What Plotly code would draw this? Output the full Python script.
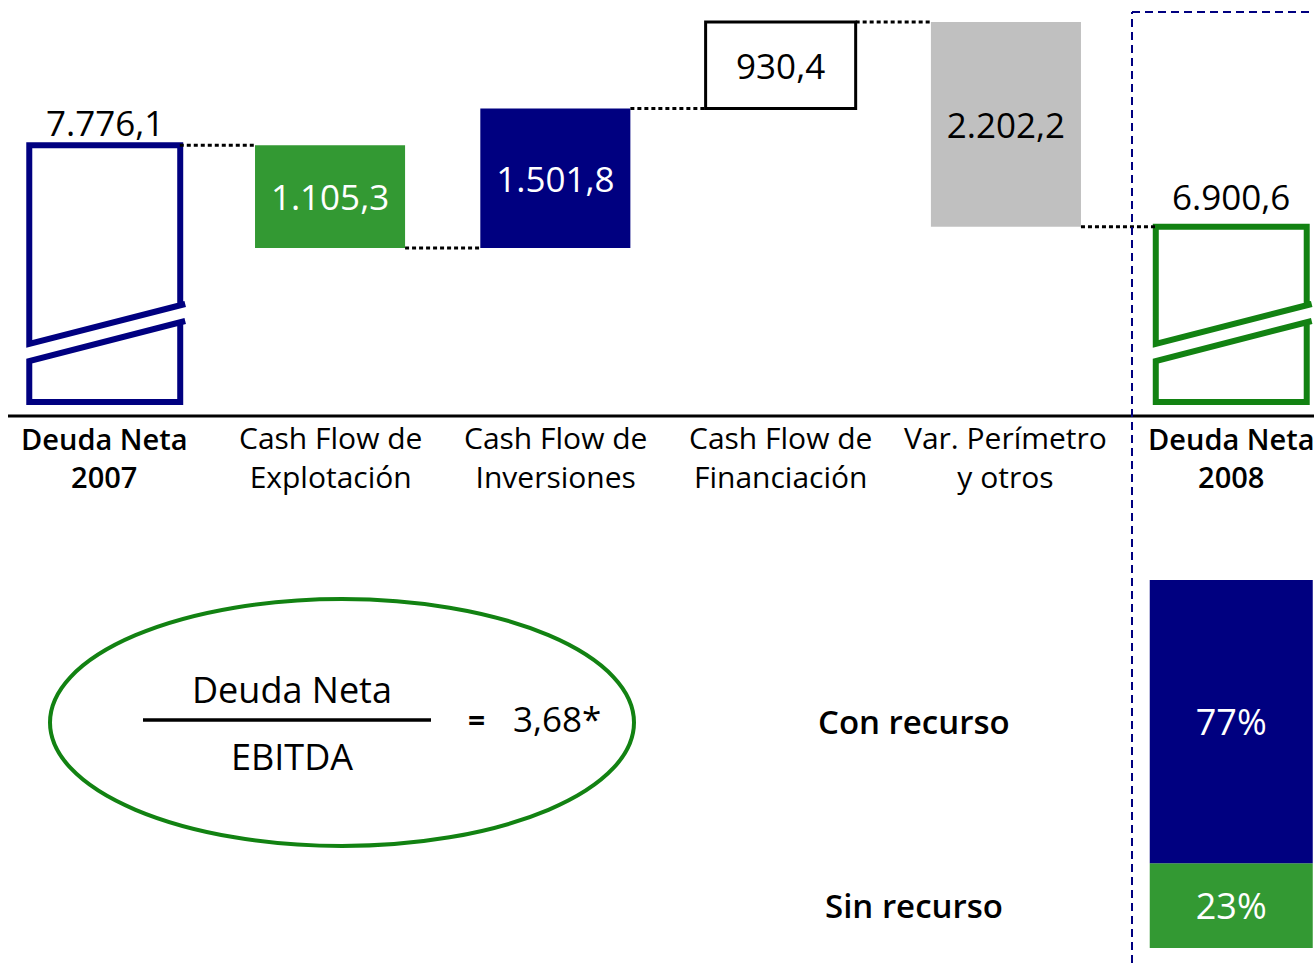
import plotly.graph_objects as go

# waterfall data (millones de euros)
categorias = ["Deuda Neta<br>2007", "Cash Flow de<br>Explotación", "Cash Flow de<br>Inversiones",
              "Cash Flow de<br>Financiación", "Var. Perímetro<br>y otros", "Deuda Neta<br>2008"]
deuda_2007 = 7776.1
variaciones = [-1105.3, 1501.8, 930.4, -2202.2]
deuda_2008 = 6900.6
etiquetas = ["7.776,1", "1.105,3", "1.501,8", "930,4", "2.202,2", "6.900,6"]

# deuda 2008 con / sin recurso (%)
tramos = ["Sin recurso", "Con recurso"]
tramos_pct = [23, 77]
tramos_txt = ["23%", "77%"]

ratio_txt = "3,68*"

NAVY = "#000080"
GREEN = "#339933"
DGREEN = "#128212"
GREY = "#c0c0c0"
FONT = "Open Sans"
W, H = 1314.0, 963.0

# top axis: broken scale, only the upper part is shown
y_min, y_max = 4863, 9340
upp = (y_max - y_min) / 416.0          # data units per pixel
ux = 1 / 225.3                         # x units per pixel

fig = go.Figure()

# cumulative levels
niveles = [deuda_2007]
for v in variaciones:
    niveles.append(niveles[-1] + v)

colores = [GREEN, NAVY, "white", GREY]
txt_col = ["white", "white", "black", "black"]
for i, v in enumerate(variaciones):
    lo = min(niveles[i], niveles[i + 1])
    fig.add_trace(go.Bar(
        x=[i + 1], y=[abs(v)], base=[lo], width=0.666,
        marker=dict(color=colores[i],
                    line=dict(color="black" if colores[i] == "white" else colores[i],
                              width=3 if colores[i] == "white" else 0)),
        text=[etiquetas[i + 1]], textposition="inside", insidetextanchor="middle",
        textfont=dict(family=FONT, size=35, color=txt_col[i]),
        textangle=0, constraintext="none", showlegend=False, hoverinfo="skip"))


def barra_rota(xc, top, color):
    # total bar drawn as an outline with a slanted break
    hw = 0.335
    L, R = xc - hw, xc + hw
    b = y_min + 14 * upp
    ext = 5 * ux
    up = [(R + ext, b + 98 * upp), (L, b + 58 * upp), (L, top), (R, top), (R, b + 97 * upp)]
    lo = [(R + ext, b + 81 * upp), (L, b + 41 * upp), (L, b), (R, b), (R, b + 80 * upp)]
    for pts in (up, lo):
        fig.add_trace(go.Scatter(
            x=[p[0] for p in pts], y=[p[1] for p in pts], mode="lines",
            line=dict(color=color, width=6), showlegend=False, hoverinfo="skip"))


barra_rota(0, deuda_2007, NAVY)
barra_rota(5, deuda_2008, DGREEN)

# dotted connectors
for i in range(5):
    lvl = niveles[i]
    fig.add_trace(go.Scatter(
        x=[i + 0.333, i + 1 - 0.333], y=[lvl, lvl], mode="lines",
        line=dict(color="black", width=3, dash="4px,3px"),
        showlegend=False, hoverinfo="skip"))

# labels above the total bars
fig.add_annotation(x=0, y=deuda_2007, yshift=23, text=etiquetas[0], showarrow=False,
                   font=dict(family=FONT, size=35, color="black"))
fig.add_annotation(x=5, y=deuda_2008, yshift=30, text=etiquetas[5], showarrow=False,
                   font=dict(family=FONT, size=35, color="black"))

# category labels
for i, c in enumerate(categorias):
    bold = i in (0, 5)
    fig.add_annotation(x=i, y=1 - 457 / H, yref="paper", text=c, showarrow=False,
                       font=dict(family=FONT, size=29 if bold else 30, color="black",
                                 weight=600 if bold else 400),
                       yanchor="middle")

# stacked bar, bottom right
fig.add_trace(go.Bar(x=[5], y=[tramos_pct[0]], width=0.7235, yaxis="y2",
                     marker=dict(color=GREEN, line=dict(width=0)),
                     text=[tramos_txt[0]], textposition="inside", insidetextanchor="middle",
                     textfont=dict(family=FONT, size=36, color="white"),
                     showlegend=False, hoverinfo="skip"))
fig.add_trace(go.Bar(x=[5], y=[tramos_pct[1]], base=[tramos_pct[0]], width=0.7235, yaxis="y2",
                     marker=dict(color=NAVY, line=dict(width=0)),
                     text=[tramos_txt[1]], textposition="inside", insidetextanchor="middle",
                     textfont=dict(family=FONT, size=36, color="white"),
                     showlegend=False, hoverinfo="skip"))
acum = 0
for t, p in zip(tramos, tramos_pct):
    fig.add_annotation(x=3.59, y=acum + p / 2, yref="y2", text=t, showarrow=False,
                       font=dict(family=FONT, size=33, color="black", weight=600))
    acum += p


def texto(px, py, t, size, weight=400):
    fig.add_annotation(x=px / W, y=1 - py / H, xref="paper", yref="paper", text=t,
                       xanchor="center", yanchor="middle", showarrow=False,
                       font=dict(family=FONT, size=size, color="black", weight=weight))


# ratio ellipse
fig.add_shape(type="circle", xref="paper", yref="paper",
              x0=50 / W, x1=634 / W, y0=1 - 846 / H, y1=1 - 599 / H,
              line=dict(color=DGREEN, width=4))
fig.add_shape(type="line", xref="paper", yref="paper",
              x0=143 / W, x1=431 / W, y0=1 - 720 / H, y1=1 - 720 / H,
              line=dict(color="black", width=3.5))
texto(292, 689, "Deuda Neta", 36)
texto(292, 756, "EBITDA", 36)
texto(476, 719, "=", 30, 700)
texto(557, 718, ratio_txt, 35)

# axis baseline and dashed separator
fig.add_shape(type="line", xref="paper", yref="paper", x0=8 / W, x1=1,
              y0=1 - 416 / H, y1=1 - 416 / H, line=dict(color="black", width=3))
fig.add_shape(type="line", xref="paper", yref="paper", x0=1132 / W, x1=1132 / W,
              y0=0, y1=1 - 12 / H, line=dict(color=NAVY, width=2, dash="8px,5px"))
fig.add_shape(type="line", xref="paper", yref="paper", x0=1132 / W, x1=1,
              y0=1 - 12 / H, y1=1 - 12 / H, line=dict(color=NAVY, width=2, dash="8px,5px"))

fig.update_layout(
    width=1314, height=963, margin=dict(l=0, r=0, t=0, b=0),
    paper_bgcolor="white", plot_bgcolor="white", barmode="overlay",
    xaxis=dict(range=[-0.4649, 5.3673], visible=False, fixedrange=True),
    yaxis=dict(range=[y_min, y_max], domain=[1 - 416 / H, 1], visible=False),
    yaxis2=dict(range=[0, 100], domain=[1 - 948 / H, 1 - 580 / H], visible=False,
                anchor="x"),
)

fig.write_html("out.html", config={"displayModeBar": False},
               post_script="document.body.style.margin='0';")
